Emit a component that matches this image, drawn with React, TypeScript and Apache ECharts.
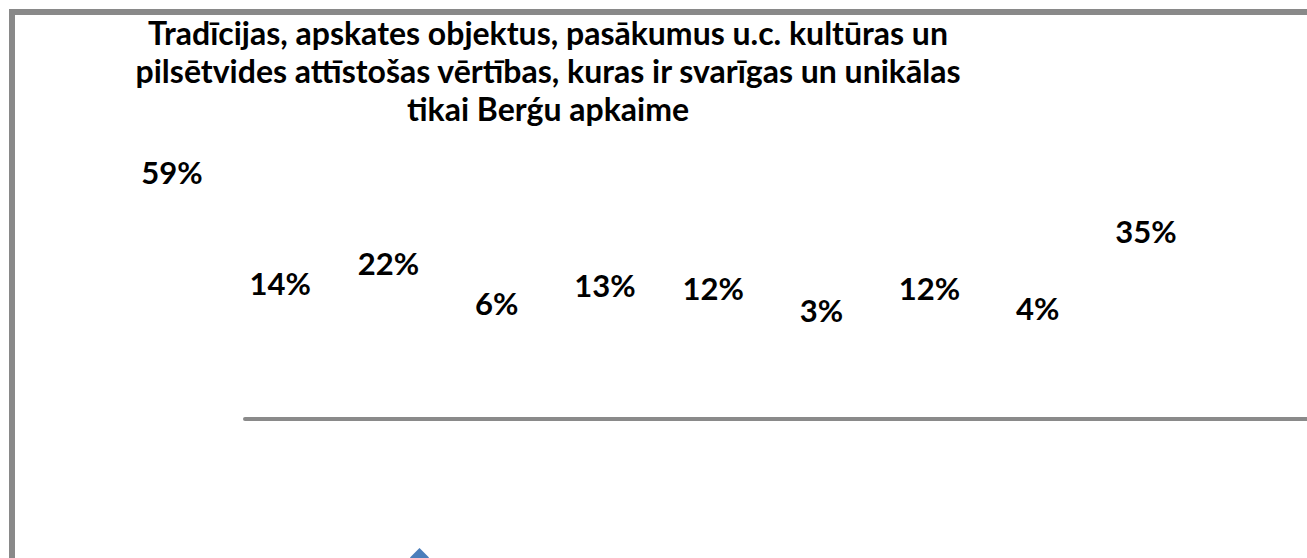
import React, { useEffect, useRef } from "react";
import * as echarts from "echarts";

const titleLines = [
  "Tradīcijas, apskates objektus, pasākumus u.c. kultūras un",
  "pilsētvides attīstošas vērtības, kuras ir svarīgas un unikālas",
  "tikai Berǵu apkaime",
];
const categories = ["1", "2", "3", "4", "5", "6", "7", "8", "9", "10"];
const seriesName = "Atbildes";
const values = [59, 14, 22, 6, 13, 12, 3, 12, 4, 35];

export default function App() {
  const ref = useRef<HTMLDivElement>(null);
  useEffect(() => {
    if (!ref.current) return;
    const chart = echarts.init(ref.current, undefined, { renderer: "svg" });
    chart.setOption({
      animation: false,
      backgroundColor: "#ffffff",
      title: {
        text: titleLines.join("\n"),
        left: 548,
        top: 13,
        padding: 0,
        textAlign: "center",
        textStyle: {
          fontFamily: "Lato",
          fontWeight: "bold",
          fontSize: 32,
          lineHeight: 38,
          color: "#000000",
        },
      },
      legend: {
        left: 410,
        top: 548,
        padding: 0,
        itemWidth: 19,
        itemHeight: 19,
        formatter: () => "",
        data: [{ name: seriesName, icon: "diamond", itemStyle: { color: "#4a7ebb", opacity: 1 } }],
      },
      graphic: [
        {
          type: "rect",
          silent: true,
          z: -10,
          shape: { x: 12, y: 12, width: 1400, height: 700 },
          style: { fill: "none", stroke: "#898989", lineWidth: 6 },
        },
      ],
      grid: [
        { left: 172, right: 161, top: 145, bottom: 240.6 },
        { left: 245, right: 0, top: 300, bottom: 139.5 },
      ],
      xAxis: [
        { type: "category", gridIndex: 0, data: categories, boundaryGap: false, show: false },
        {
          type: "category",
          gridIndex: 1,
          data: categories,
          axisLine: { show: true, lineStyle: { color: "#8a8a8a", width: 4 } },
          axisTick: { show: false },
          axisLabel: { show: false },
          splitLine: { show: false },
        },
      ],
      yAxis: [
        { type: "value", gridIndex: 0, min: 0, max: 70, show: false, splitLine: { show: false } },
        { type: "value", gridIndex: 1, min: 0, max: 70, show: false, splitLine: { show: false } },
      ],
      series: [
        {
          name: seriesName,
          type: "line",
          xAxisIndex: 0,
          yAxisIndex: 0,
          data: values,
          symbol: "diamond",
          symbolSize: 0.01,
          itemStyle: { color: "#4a7ebb" },
          lineStyle: { width: 0, opacity: 0 },
          label: {
            show: true,
            position: "inside",
            formatter: "{c}%",
            fontFamily: "Lato",
            fontWeight: "bold",
            fontSize: 31,
            color: "#000000",
          },
        },
      ],
    });
    return () => chart.dispose();
  }, []);
  return (
    <div
      ref={ref}
      style={{ position: "fixed", left: 0, top: 0, width: 1307, height: 558, background: "#fff" }}
    />
  );
}
